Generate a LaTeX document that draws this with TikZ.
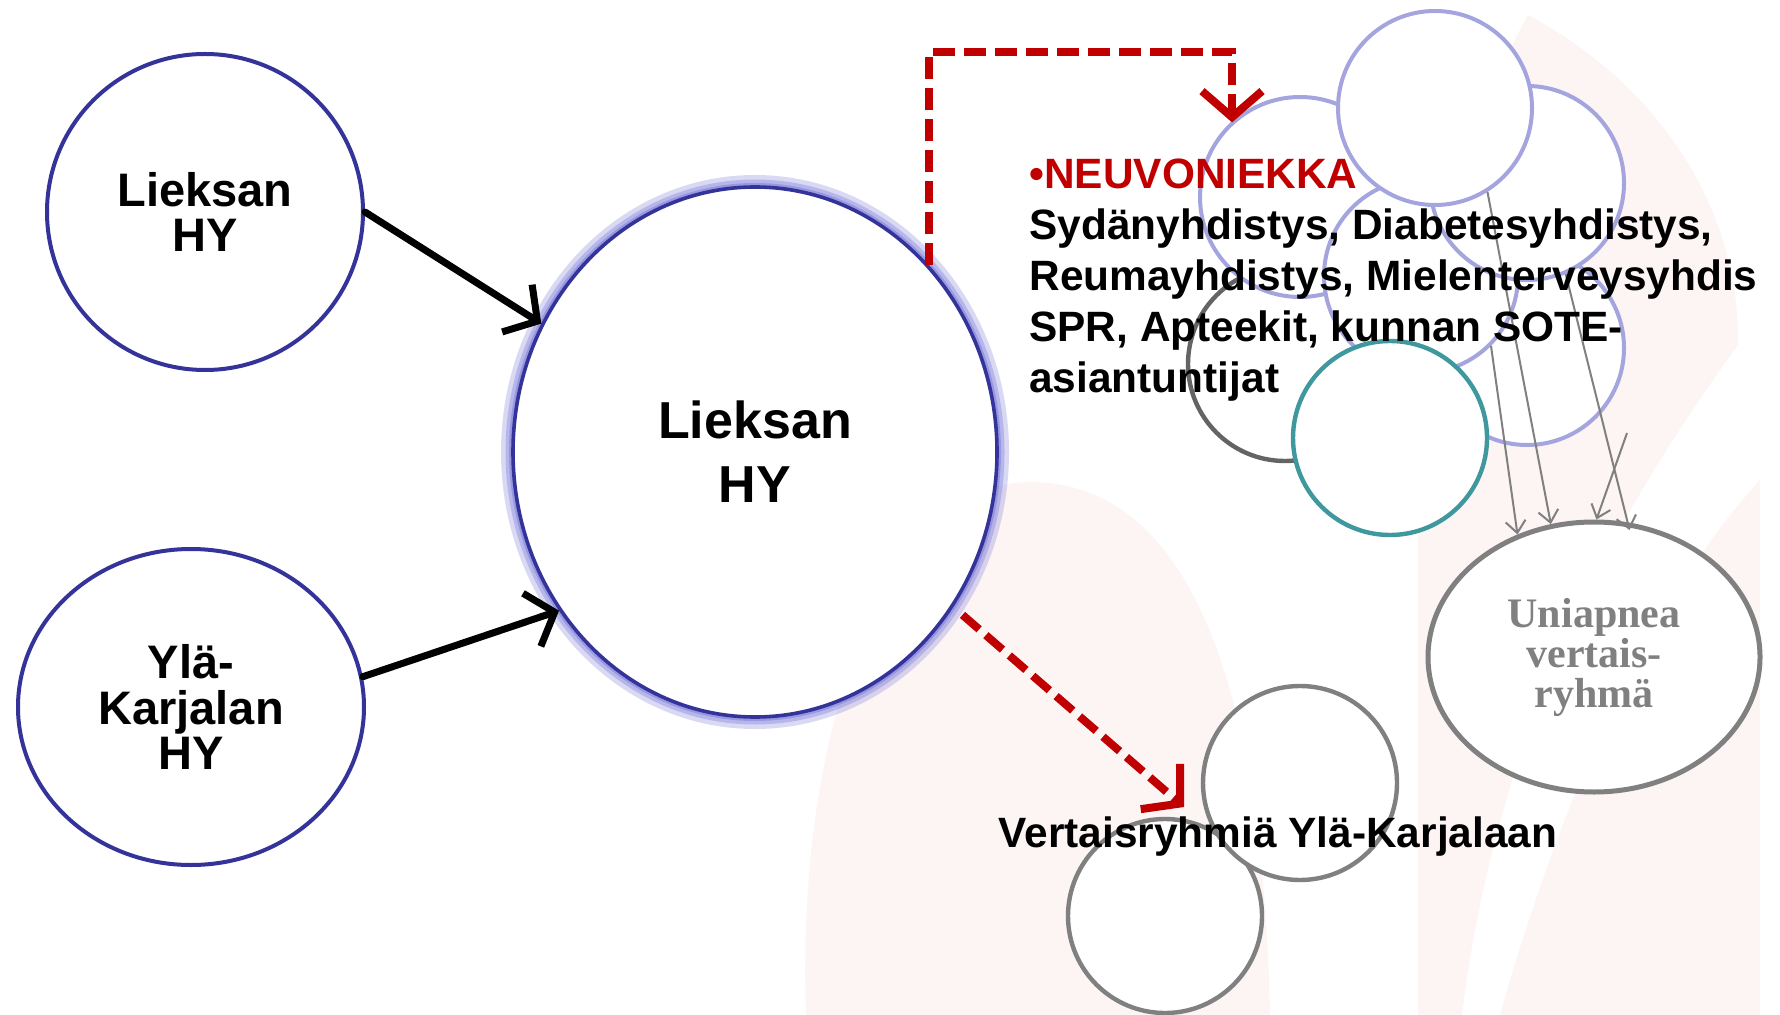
\documentclass[tikz,border=0pt]{standalone}
\usepackage{fontspec}
\setmainfont{Liberation Sans}
\newfontfamily\timesbold{Liberation Serif}
\usetikzlibrary{arrows.meta,shapes.geometric}

\definecolor{hyblue}{RGB}{51,51,153}
\definecolor{glowblue}{RGB}{130,130,220}
\definecolor{lavblue}{RGB}{164,164,222}
\definecolor{tealring}{RGB}{62,152,158}
\definecolor{ringdark}{RGB}{100,100,100}
\definecolor{ringgray}{RGB}{128,128,128}
\definecolor{arrowred}{RGB}{192,0,0}
\definecolor{bgpink}{RGB}{253,244,244}

\begin{document}
\begin{tikzpicture}[x=0.5pt,y=0.5pt,yscale=-1,
  ringbase/.style={draw,fill=white,inner sep=0pt,align=center},
  hyring/.style={ringbase,draw=hyblue,line width=2pt},
  lavring/.style={ringbase,circle,draw=lavblue,line width=2pt,minimum size=97pt},
  grayring/.style={ringbase,circle,draw=ringgray,line width=2.2pt,minimum size=97pt},
  feed/.style={line width=3.5pt,line cap=round,-{Straight Barb[length=12pt,width=28pt]}},
  reddash/.style={draw=arrowred,line width=4pt,dash pattern={on 11pt off 4.5pt},-{Straight Barb[length=13pt,width=30pt]}},
  grayfeed/.style={draw=ringgray,line width=1pt,-{Straight Barb[length=6pt,width=10pt]}},
  hyfont/.style={font=\fontsize{23.5}{22.7}\selectfont\bfseries},
  bodyfont/.style={font=\fontsize{21.2}{25.5}\selectfont\bfseries}]
\useasboundingbox (0,0) rectangle (1780,1015);

%Background swooshes
\fill[bgpink] (806,1015) .. controls (795,700) and (900,482) .. (1030,482) .. controls (1170,482) and (1262,640) .. (1270,1015) -- cycle;
\fill[bgpink] (1528,15) .. controls (1650,80) and (1740,200) .. (1738,345) .. controls (1640,480) and (1500,700) .. (1462,1015) -- (1418,1015) -- (1418,420) .. controls (1430,250) and (1480,100) .. (1528,15) -- cycle;
\fill[bgpink] (1760,480) -- (1760,1015) -- (1500,1015) .. controls (1560,800) and (1650,600) .. (1760,480) -- cycle;

%Shape: Circle
\node[hyring,circle,minimum size=158pt,hyfont] (lieksa) at (205,212) {Lieksan\\HY};
%Shape: Ellipse
\node[hyring,ellipse,minimum width=173pt,minimum height=158pt,hyfont] (yla) at (191,707) {Ylä-\\Karjalan\\HY};

%Glow round the big circle
\draw[glowblue,line width=12pt,opacity=0.3] (755,452) ellipse [x radius=242,y radius=265];
\draw[glowblue,line width=7.5pt,opacity=0.4] (755,452) ellipse [x radius=242,y radius=265];
\draw[glowblue,line width=4pt,opacity=0.6] (755,452) ellipse [x radius=242,y radius=265];
%Shape: Ellipse
\node[hyring,ellipse,minimum width=242pt,minimum height=265pt,line width=1.8pt,font=\fontsize{26}{32}\selectfont\bfseries] (main) at (755,452) {Lieksan\\HY};

%Straight Lines
\draw[feed] (lieksa.east) -- (main.149);
\draw[feed] (yla.10) -- (main.219);

%Circle cluster
\node[grayring,draw=ringdark] (yhdgray) at (1285,364) {};
\node[lavring,minimum size=100pt] (yhd1) at (1300,197) {};
\node[lavring] (yhd4) at (1527,348) {};
\node[lavring] (yhd3) at (1421,276) {};
\node[lavring] (yhd2) at (1527,183) {};
\node[lavring] (yhd0) at (1435,108) {};
\node[lavring,draw=tealring,line width=2.2pt] (yhdteal) at (1390,438) {};

%Shape: Ellipse
\node[ringbase,ellipse,draw=ringgray,line width=2.5pt,minimum width=166pt,minimum height=135pt,
  text=ringgray,font=\timesbold\fontsize{21}{20}\selectfont\bfseries] (uni) at (1594,657) {Uniapnea\\vertais-\\ryhmä};

%Straight Lines
\coordinate (fromback) at (1627,433);
\draw[grayfeed] (yhd0.302) -- (uni.108);
\draw[grayfeed] (yhd3.315) -- (uni.122);
\draw[grayfeed,shorten >=-4pt] (yhd2.293) -- (uni.76);
\draw[grayfeed] (fromback) -- (uni.89);

% Text Node
\node[anchor=north west,align=left,inner sep=0pt,bodyfont] (neuvo) at (1029,158)
  {\textcolor{arrowred}{•NEUVONIEKKA}\\Sydänyhdistys, Diabetesyhdistys,\\Reumayhdistys, Mielenterveysyhdis\\SPR, Apteekit, kunnan SOTE-\\asiantuntijat};

%Bottom circles
\node[grayring] (vert1) at (1165,916) {};
\node[grayring] (vert2) at (1300,783) {};
% Text Node
\node[anchor=base,inner sep=0pt,bodyfont] (vertteksti) at (1278,847) {Vertaisryhmiä Ylä-Karjalaan};

%Dashed red arrows
\coordinate (bend) at (1232,52);
\coordinate (vtip) at (1184,807);
\draw[reddash] (main.47) |- (bend) -- (bend |- yhd1.133);
\draw[reddash,shorten <=6pt] (main.322) -- (vtip);

\end{tikzpicture}
\end{document}
